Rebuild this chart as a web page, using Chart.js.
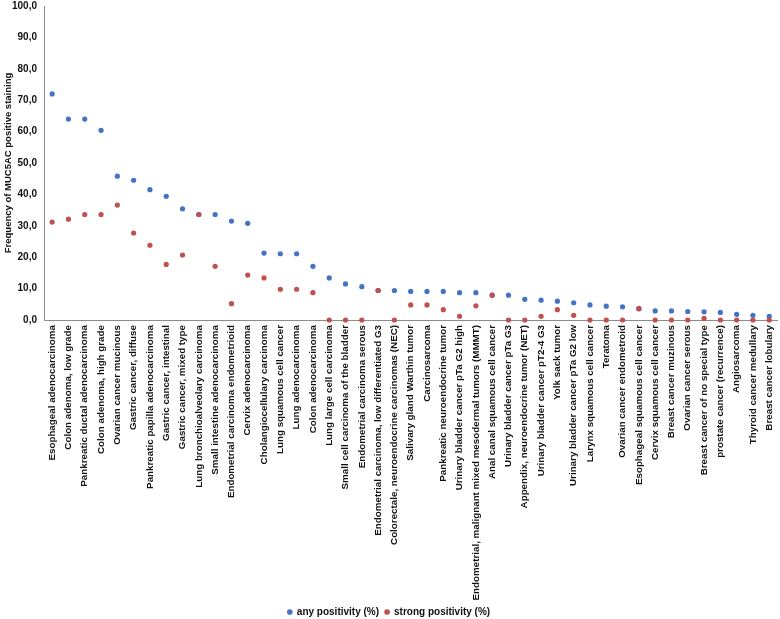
<!DOCTYPE html>
<html>
<head>
<meta charset="utf-8">
<script src="https://cdn.jsdelivr.net/npm/chart.js@4/dist/chart.umd.min.js"></script>
<style>
  html, body { margin: 0; padding: 0; background: #fff; overflow: hidden; }
  #wrap { width: 780px; height: 627px; }
</style>
</head>
<body>
<div id="wrap"><canvas id="muc5acChart"></canvas></div>
<script>
// tumour types
const categories = [
    'Esophageal adenocarcinoma',
    'Colon adenoma, low grade',
    'Pankreatic ductal adenocarcinoma',
    'Colon adenoma, high grade',
    'Ovarian cancer mucinous',
    'Gastric cancer, diffuse',
    'Pankreatic papilla adenocarcinoma',
    'Gastric cancer, intestinal',
    'Gastric cancer, mixed type',
    'Lung bronchioalveolary carcinoma',
    'Small intestine adenocarcinoma',
    'Endometrial carcinoma endometrioid',
    'Cervix adenocarcinoma',
    'Cholangiocellulary carcinoma',
    'Lung squamous cell cancer',
    'Lung adenocarcinoma',
    'Colon adenocarcinoma',
    'Lung large cell carcinoma',
    'Small cell carcinoma of the bladder',
    'Endometrial carcinoma serous',
    'Endometrial carcinoma, low differentiated G3',
    'Colorectale, neuroendocrine carcinomas (NEC)',
    'Salivary gland Warthin tumor',
    'Carcinosarcoma',
    'Pankreatic neuroendocrine tumor',
    'Urinary bladder cancer pTa G2 high',
    'Endometrial, malignant mixed mesodermal tumors (MMMT)',
    'Anal canal squamous cell cancer',
    'Urinary bladder cancer pTa G3',
    'Appendix, neuroendocrine tumor (NET)',
    'Urinary bladder cancer pT2-4 G3',
    'Yolk sack tumor',
    'Urinary bladder cancer pTa G2 low',
    'Larynx squamous cell cancer',
    'Teratoma',
    'Ovarian cancer endometroid',
    'Esophageal squamous cell cancer',
    'Cervix squamous cell cancer',
    'Breast cancer muzinous',
    'Ovarian cancer serous',
    'Breast cancer of no special type',
    'prostate cancer (recurrence)',
    'Angiosarcoma',
    'Thyroid cancer medullary',
    'Breast cancer lobulary'
];

// any positivity (%)
const anyPositivity = [
    72.0, 64.0, 64.0, 60.4, 45.8, 44.5, 41.5, 39.4, 35.4, 33.6,
    33.6, 31.5, 30.8, 21.3, 21.1, 21.1, 17.1, 13.4, 11.5, 10.6,
    9.4, 9.4, 9.1, 9.1, 9.1, 8.7, 8.7, 7.9, 7.9, 6.6,
    6.3, 6.0, 5.5, 4.8, 4.4, 4.2, 3.6, 2.9, 2.9, 2.7,
    2.6, 2.4, 1.8, 1.5, 1.2
];

// strong positivity (%)
const strongPositivity = [
    31.2, 32.1, 33.6, 33.6, 36.6, 27.7, 23.8, 17.7, 20.7, 33.6,
    17.1, 5.2, 14.3, 13.4, 9.8, 9.8, 8.7, 0, 0, 0,
    9.4, 0, 4.8, 4.8, 3.3, 1.2, 4.5, 7.9, 0, 0,
    1.2, 3.3, 1.5, 0, 0, 0, 3.6, 0, 0, 0,
    0.5, 0, 0, 0, 0
];

// y axis
const yTicks = [0, 10, 20, 30, 40, 50, 60, 70, 80, 90, 100];

const seriesNames = ['any positivity (%)', 'strong positivity (%)'];
const seriesColors = ['#4472C4', '#C0504D'];

Chart.defaults.font.family = '"Liberation Sans", Arial, sans-serif';
Chart.defaults.font.weight = 'bold';
Chart.defaults.color = '#111';

const ctx = document.getElementById('muc5acChart').getContext('2d');

new Chart(ctx, {
    type: 'line',
    data: {
        labels: categories,
        datasets: [{
            label: seriesNames[0],
            data: anyPositivity,
            showLine: false,
            pointRadius: 2.6,
            pointHoverRadius: 2.6,
            pointBorderWidth: 0,
            backgroundColor: seriesColors[0],
            borderColor: seriesColors[0],
            clip: false,
            order: 2
        }, {
            label: seriesNames[1],
            data: strongPositivity,
            showLine: false,
            pointRadius: 2.6,
            pointHoverRadius: 2.6,
            pointBorderWidth: 0,
            backgroundColor: seriesColors[1],
            borderColor: seriesColors[1],
            clip: false,
            order: 1
        }]
    },
    options: {
        responsive: true,
        maintainAspectRatio: false,
        animation: false,
        layout: { padding: { top: 6, right: 2, left: 0, bottom: 0 } },
        plugins: {
            tooltip: { enabled: false },
            legend: {
                position: 'bottom',
                labels: {
                    usePointStyle: true,
                    pointStyle: 'circle',
                    boxWidth: 4,
                    boxHeight: 4,
                    padding: 6,
                    font: { size: 10, weight: 'bold' },
                    sort: (a, b) => a.datasetIndex - b.datasetIndex
                }
            }
        },
        scales: {
            x: {
                offset: true,
                grid: { display: false, drawTicks: false },
                border: { display: true, color: '#8c8c8c', width: 1 },
                ticks: {
                    autoSkip: false,
                    minRotation: 90,
                    maxRotation: 90,
                    padding: 5,
                    font: { size: 9.8, weight: 'bold' }
                },
                afterFit: axis => {
                    axis.height = 281;
                    axis.paddingLeft = 0;
                    axis.paddingRight = 0;
                }
            },
            y: {
                min: 0,
                max: 100,
                afterBuildTicks: axis => {
                    axis.ticks = yTicks.map(v => ({ value: v }));
                },
                grid: { display: false, drawTicks: false },
                border: { display: true, color: '#8c8c8c', width: 1 },
                ticks: {
                    padding: 7,
                    font: { size: 10, weight: 'bold' },
                    callback: v => v.toFixed(1).replace('.', ',')
                },
                title: {
                    display: true,
                    text: 'Frequency of MUC5AC positive staining',
                    font: { size: 9.5, weight: 'bold' },
                    padding: { top: 3, bottom: 0 }
                },
                afterFit: axis => {
                    axis.width = 44;
                    axis.paddingTop = 0;
                }
            }
        }
    }
});
</script>
</body>
</html>
